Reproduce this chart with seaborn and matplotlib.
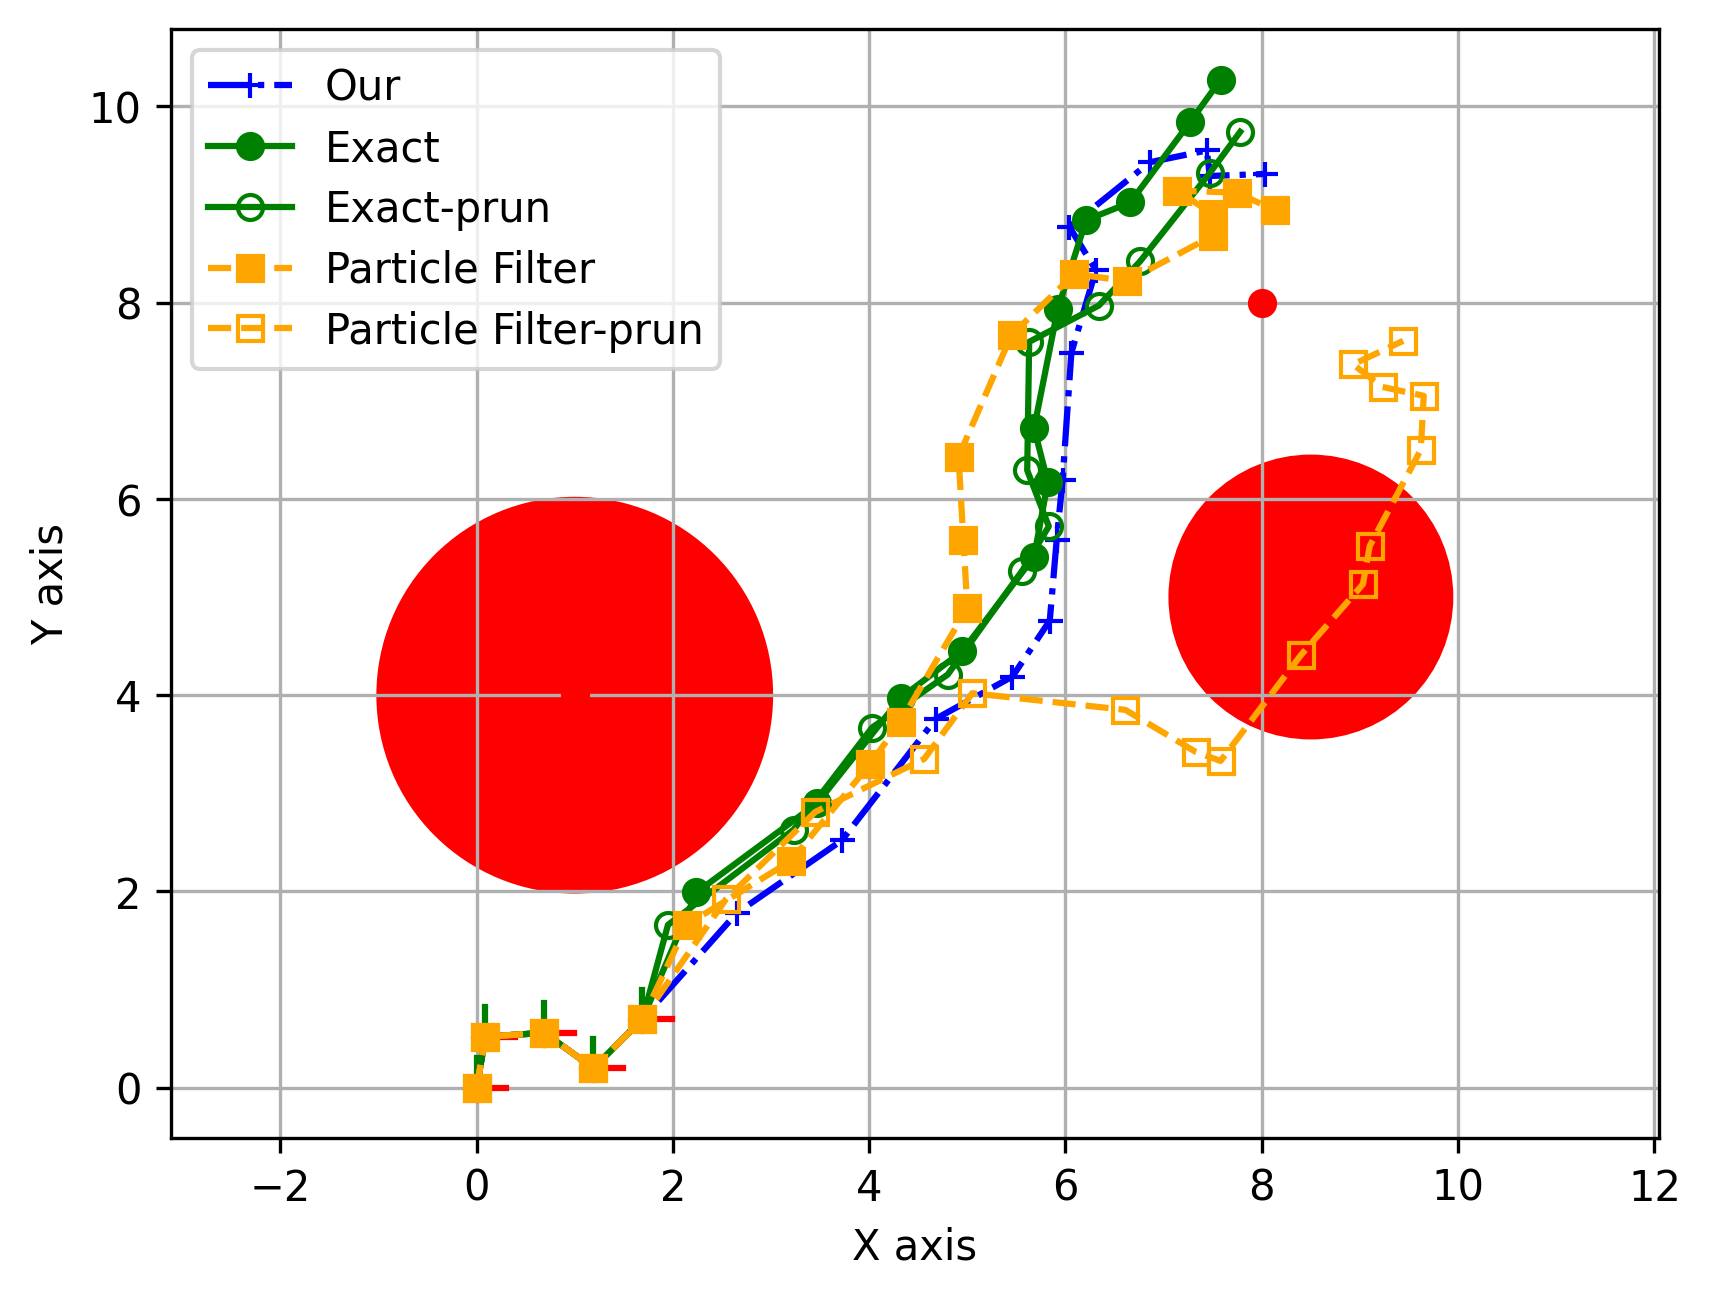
import matplotlib
matplotlib.use("Agg")
import matplotlib.pyplot as plt
import seaborn as sns

# trajectories
our_x = [0.0, 0.09, 0.69, 1.19, 1.69, 2.65, 3.72, 4.68, 5.46, 5.84, 5.91, 5.97, 6.06, 6.31, 6.04, 6.86, 7.44, 7.47, 8.03]
our_y = [0.0, 0.52, 0.56, 0.20, 0.70, 1.78, 2.52, 3.76, 4.19, 4.76, 5.58, 6.19, 7.49, 8.33, 8.77, 9.43, 9.55, 9.29, 9.31]

exact_x = [0.0, 0.09, 0.69, 1.19, 1.69, 2.24, 3.47, 4.32, 4.95, 5.68, 5.82, 5.68, 5.92, 6.21, 6.66, 7.27, 7.58]
exact_y = [0.0, 0.52, 0.56, 0.20, 0.70, 1.99, 2.90, 3.97, 4.45, 5.41, 6.17, 6.72, 7.93, 8.84, 9.02, 9.84, 10.27]

exact_prun_x = [0.0, 0.09, 0.69, 1.19, 1.69, 1.95, 3.23, 4.03, 4.80, 5.56, 5.83, 5.61, 5.63, 6.34, 6.76, 7.47, 7.78]
exact_prun_y = [0.0, 0.52, 0.56, 0.20, 0.70, 1.66, 2.63, 3.67, 4.21, 5.27, 5.72, 6.29, 7.60, 7.97, 8.42, 9.32, 9.74]

pf_x = [0.0, 0.09, 0.69, 1.19, 1.69, 2.14, 3.20, 4.01, 4.32, 5.00, 4.96, 4.91, 5.45, 6.09, 6.63, 7.50, 7.50, 7.14, 7.75, 8.13]
pf_y = [0.0, 0.52, 0.56, 0.20, 0.70, 1.66, 2.31, 3.30, 3.73, 4.89, 5.58, 6.43, 7.67, 8.29, 8.22, 8.68, 8.90, 9.14, 9.12, 8.94]

pf_prun_x = [0.0, 0.09, 0.69, 1.19, 1.69, 2.54, 3.45, 4.56, 5.05, 6.61, 7.33, 7.58, 8.40, 9.03, 9.10, 9.62, 9.65, 9.23, 8.93, 9.44]
pf_prun_y = [0.0, 0.52, 0.56, 0.20, 0.70, 1.92, 2.81, 3.35, 4.02, 3.85, 3.42, 3.33, 4.41, 5.13, 5.52, 6.50, 7.05, 7.14, 7.37, 7.61]

# start poses (little frames)
pose_x = [0.0, 0.09, 0.69, 1.19, 1.69]
pose_y = [0.0, 0.52, 0.56, 0.20, 0.70]
frame_len = 0.3

# obstacles and goal
obs_x = [1.0, 8.5]
obs_y = [4.0, 5.0]
obs_r = [2.0, 1.43]
goal_x = [8.0]
goal_y = [8.0]

fig, ax = plt.subplots(figsize=(6.4, 4.8))

for cx, cy, r in zip(obs_x, obs_y, obs_r):
    ax.add_patch(plt.Circle((cx, cy), r, color='red'))
ax.plot(obs_x[:1], obs_y[:1], 'ro')
ax.plot(goal_x, goal_y, 'ro')

for px, py in zip(pose_x, pose_y):
    ax.plot([px, px + frame_len], [py, py], color='red', linewidth=1.5)
    ax.plot([px, px], [py, py + frame_len], color='green', linewidth=1.5)

sns.lineplot(x=our_x, y=our_y, sort=False, estimator=None, color='blue', linestyle='-.',
             marker='+', markersize=6, markeredgecolor='blue', markeredgewidth=1, label='Our', ax=ax)
sns.lineplot(x=exact_x, y=exact_y, sort=False, estimator=None, color='green', linestyle='-',
             marker='o', markersize=6, markeredgecolor='green', markeredgewidth=1, label='Exact', ax=ax)
sns.lineplot(x=exact_prun_x, y=exact_prun_y, sort=False, estimator=None, color='green', linestyle='-',
             marker='o', markersize=6, markerfacecolor='none', markeredgecolor='green', markeredgewidth=1,
             label='Exact-prun', ax=ax)
sns.lineplot(x=pf_x, y=pf_y, sort=False, estimator=None, color='orange', linestyle='--',
             marker='s', markersize=6, markeredgecolor='orange', markeredgewidth=1, label='Particle Filter', ax=ax)
sns.lineplot(x=pf_prun_x, y=pf_prun_y, sort=False, estimator=None, color='orange', linestyle='--',
             marker='s', markersize=6, markerfacecolor='none', markeredgecolor='orange', markeredgewidth=1,
             label='Particle Filter-prun', ax=ax)

ax.set_aspect('equal', adjustable='datalim')
ax.set_xlabel('X axis')
ax.set_ylabel('Y axis')
ax.grid(True)
ax.legend(loc='upper left', labelspacing=0.45)

plt.savefig('out.png', dpi=300, bbox_inches='tight')
